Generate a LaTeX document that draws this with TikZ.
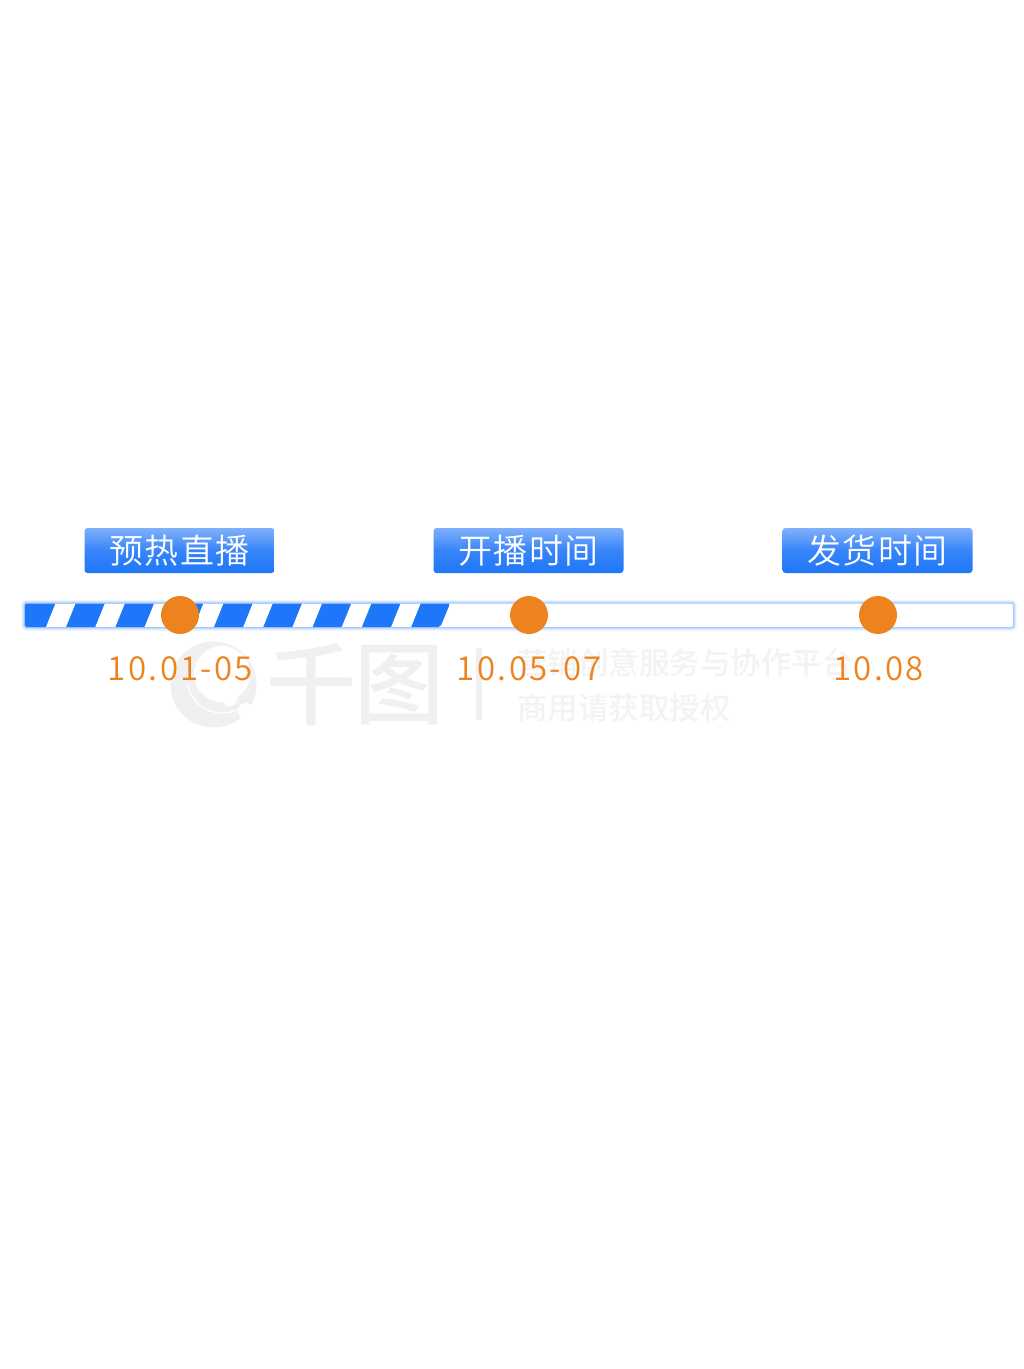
\documentclass[tikz,border=0pt]{standalone}
\usepackage{fontspec}
\setmainfont{Noto Sans CJK SC}
\newfontfamily\labelfont[LetterSpace=4]{Noto Sans CJK SC DemiLight}
\newfontfamily\datefont[LetterSpace=7]{Noto Sans CJK SC DemiLight}
\newfontfamily\wmfont[LetterSpace=0]{Noto Sans CJK SC Medium}
\usetikzlibrary{calc}
\definecolor{barblue}{HTML}{1E76F8}
\definecolor{toplight}{HTML}{80B0FB}
\definecolor{dotorange}{HTML}{EC831E}
\definecolor{wmgrey}{HTML}{F0F0F0}
\definecolor{wmtext}{HTML}{F3F3F3}
\tikzset{
  x=1pt,y=-1pt,
  labelbox/.style={rounded corners=3pt,top color=toplight,bottom color=barblue,middle color=barblue!75!toplight,
    minimum width=190pt,minimum height=45pt,inner sep=0pt,text=white,font=\labelfont\fontsize{34}{36}\selectfont},
  dotmark/.style={circle,fill=dotorange,minimum size=38pt,inner sep=0pt},
  datelabel/.style={text=dotorange,font=\datefont\fontsize{33}{36}\selectfont,inner sep=0pt},
  wmline/.style={text=wmtext,font=\wmfont\fontsize{30.5}{32}\selectfont,inner sep=0pt},
  wmglyph/.style={text=wmgrey,font=\wmfont\fontsize{90}{94}\selectfont,inner sep=0pt},
  stripe/.style={fill=white},
}
\begin{document}
\begin{tikzpicture}
\useasboundingbox (0,0) rectangle (1024,1369);
\fill[white] (0,0) rectangle (1024,1369);
% watermark
\fill[wmgrey] (213.5,684.5) circle[radius=43];
\fill[white] (222,674) circle[radius=28];
\draw[white,line width=1.2pt] (222,678) ++(170:35) arc[start angle=170,delta angle=-110,radius=35];
\fill[white] (230,699) circle[radius=7];
\fill[white] (246,711) circle[radius=8];
\node[wmglyph] (wmqian) at (311,685) {千};
\node[wmglyph] (wmtu) at (399,685) {图};
\fill[wmgrey] (476,648) rectangle (482,720);
\node[wmline,anchor=west] (wma) at (517,663) {营销创意服务与协作平台};
\node[wmline,anchor=west] (wmb) at (517,708) {商用请获取授权};
% glow
\foreach \w/\o in {8/0.05,6/0.08,4/0.12,2/0.25}{
  \draw[barblue,line width=\w pt,opacity=\o,rounded corners=2pt] (25,603.5) rectangle (1013,627);
}
% bar
\fill[white,rounded corners=2pt] (25,603.5) rectangle (1013,627);
\fill[barblue,rounded corners=2pt] (25,603.5) -- (450,603.5) -- (440.4,627) -- (25,627) -- cycle;
\foreach \k in {0,...,7}{
  \fill[stripe] ({46+49.3*\k},627) -- ({66+49.3*\k},627) -- ({75.5+49.3*\k},603.5) -- ({55.5+49.3*\k},603.5) -- cycle;
}
% labels
\node[labelbox] (la) at (179.5,550.5) {预热直播};
\node[labelbox] (lb) at (528.5,550.5) {开播时间};
\node[labelbox] (lc) at (877.5,550.5) {发货时间};
% dots
\node[dotmark] (da) at (180,615) {};
\node[dotmark] (db) at (529,615) {};
\node[dotmark] (dc) at (878,615) {};
% dates
\node[datelabel] (ta) at (180.5,668.5) {10.01-05};
\node[datelabel] (tb) at (529.5,668.5) {10.05-07};
\node[datelabel] (tc) at (878.5,668.5) {10.08};
\end{tikzpicture}
\end{document}
